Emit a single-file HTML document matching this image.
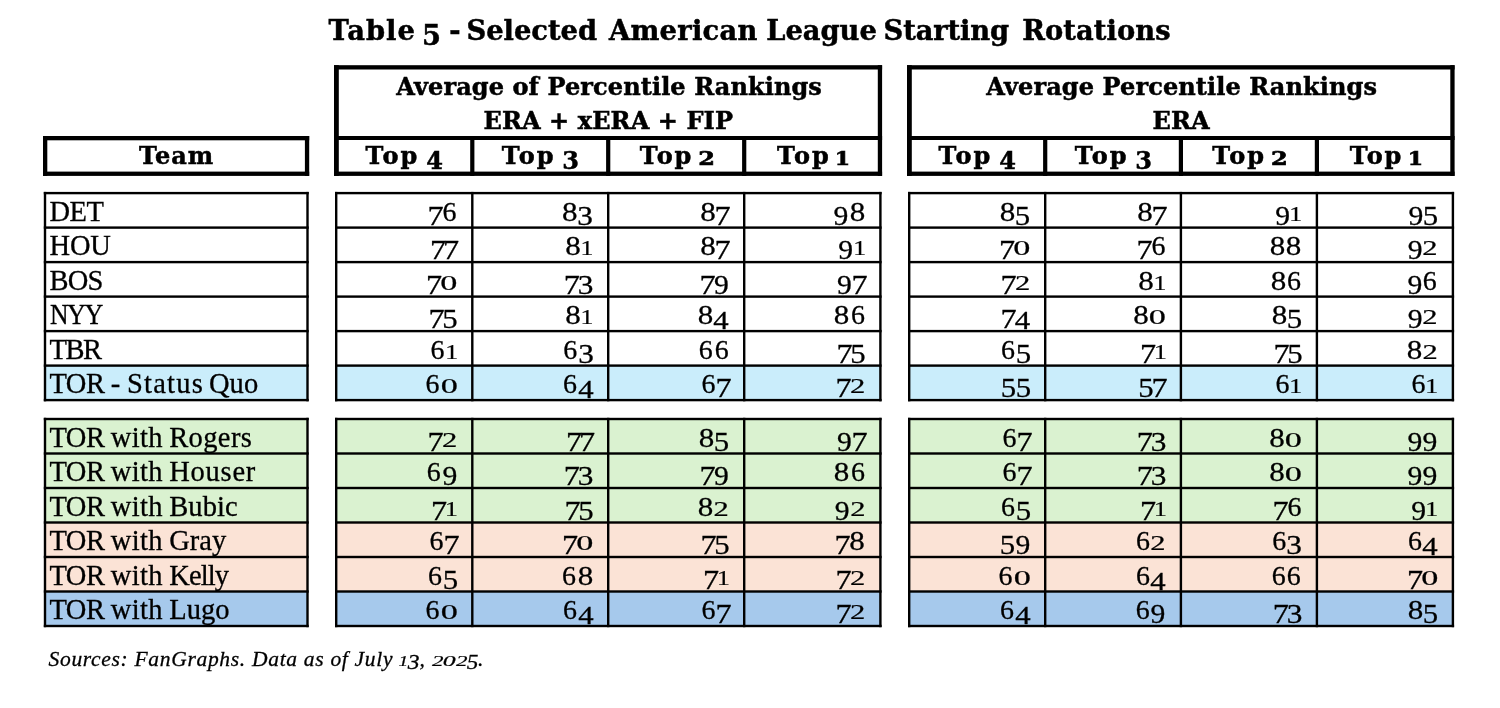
<!DOCTYPE html>
<html lang="en"><head><meta charset="utf-8"><title>Table 5 - Selected American League Starting Rotations</title>
<style>
html,body{margin:0;padding:0;background:#fff}
body{width:1500px;height:708px;position:relative;overflow:hidden;color:#000}
#lines{position:absolute;left:0;top:0}
.t{position:absolute;white-space:nowrap;line-height:1}
.title{font:bold 27.3px/1 "DejaVu Serif", serif;}
.h{font:bold 24.0px/1 "DejaVu Serif", serif;letter-spacing:0.1px;text-align:center}
.b,.n,.f{-webkit-text-stroke:.3px #000}
.h,.title{-webkit-text-stroke:.5px #000}
.b{font:28.5px/1 "Liberation Serif", serif;letter-spacing:0.15px}
.n{font:28.5px/1 "Liberation Serif", serif;text-align:right}
.f{font:italic 21.5px/1 "Liberation Serif", serif;letter-spacing:.69px}
.c{transform:translateX(-50%)}
.r{transform:translateX(-100%)}
.d{display:inline-block;text-align:center;transform-origin:50% 83.75%;letter-spacing:0}
.d span{display:inline-block;margin:0 -1em}
.d0{width:.588em;transform:scale(1.2,.71)}
.d1{width:.411em;transform:scale(.9,.70)}
.d2{width:.535em;transform:scale(1.07,.70)}
.d3{width:.529em;transform:translateY(.155em) scale(1.1,.95)}
.d4{width:.541em;transform:translateY(.16em) scale(1.08,.92)}
.d5{width:.506em;transform:translateY(.155em) scale(1.08,.95)}
.d6{width:.542em;transform:scale(.98,.96)}
.d7{width:.45em;transform:translate(.01em,.155em) scale(1.13,.95)}
.d8{width:.572em;transform:scale(1.09,.96)}
.d9{width:.542em;transform:translateY(.125em) scale(1.04,.93)}
.cp{letter-spacing:-.55px}
.lc{letter-spacing:.32px;word-spacing:-1px}
.tp{letter-spacing:1.9px}
.sp{letter-spacing:-1.1px}
.B{transform-origin:50% 84.6%}
.B.d1,.B.d2{-webkit-text-stroke:.8px #000}
.B.d1{width:.40em;transform:translateY(.03em) scale(.92,.78)}
.B.d2{width:.51em;transform:translateY(.03em) scale(1,.78)}
.B.d3{width:.66em;transform:translateY(.2em)}
.B.d4{width:.68em;transform:translateY(.2em)}
.B.d5{width:.64em;transform:translateY(.2em)}

</style></head><body>
<svg id="lines" width="1500" height="708" viewBox="0 0 1500 708" shape-rendering="geometricPrecision"><rect x="45.00" y="365.60" width="262.50" height="34.50" fill="#CAEDFB"/><rect x="336.20" y="365.60" width="544.20" height="34.50" fill="#CAEDFB"/><rect x="909.20" y="365.60" width="543.70" height="34.50" fill="#CAEDFB"/><rect x="43.80" y="191.90" width="264.90" height="2.40" fill="#000"/><rect x="43.80" y="226.40" width="264.90" height="2.40" fill="#000"/><rect x="43.80" y="260.90" width="264.90" height="2.40" fill="#000"/><rect x="43.80" y="295.40" width="264.90" height="2.40" fill="#000"/><rect x="43.80" y="329.90" width="264.90" height="2.40" fill="#000"/><rect x="43.80" y="364.40" width="264.90" height="2.40" fill="#000"/><rect x="43.80" y="398.90" width="264.90" height="2.40" fill="#000"/><rect x="43.80" y="191.90" width="2.40" height="209.40" fill="#000"/><rect x="306.30" y="191.90" width="2.40" height="209.40" fill="#000"/><rect x="335.00" y="191.90" width="546.60" height="2.40" fill="#000"/><rect x="335.00" y="226.40" width="546.60" height="2.40" fill="#000"/><rect x="335.00" y="260.90" width="546.60" height="2.40" fill="#000"/><rect x="335.00" y="295.40" width="546.60" height="2.40" fill="#000"/><rect x="335.00" y="329.90" width="546.60" height="2.40" fill="#000"/><rect x="335.00" y="364.40" width="546.60" height="2.40" fill="#000"/><rect x="335.00" y="398.90" width="546.60" height="2.40" fill="#000"/><rect x="335.00" y="191.90" width="2.40" height="209.40" fill="#000"/><rect x="471.10" y="191.90" width="2.40" height="209.40" fill="#000"/><rect x="607.00" y="191.90" width="2.40" height="209.40" fill="#000"/><rect x="743.00" y="191.90" width="2.40" height="209.40" fill="#000"/><rect x="879.20" y="191.90" width="2.40" height="209.40" fill="#000"/><rect x="908.00" y="191.90" width="546.10" height="2.40" fill="#000"/><rect x="908.00" y="226.40" width="546.10" height="2.40" fill="#000"/><rect x="908.00" y="260.90" width="546.10" height="2.40" fill="#000"/><rect x="908.00" y="295.40" width="546.10" height="2.40" fill="#000"/><rect x="908.00" y="329.90" width="546.10" height="2.40" fill="#000"/><rect x="908.00" y="364.40" width="546.10" height="2.40" fill="#000"/><rect x="908.00" y="398.90" width="546.10" height="2.40" fill="#000"/><rect x="908.00" y="191.90" width="2.40" height="209.40" fill="#000"/><rect x="1044.00" y="191.90" width="2.40" height="209.40" fill="#000"/><rect x="1179.70" y="191.90" width="2.40" height="209.40" fill="#000"/><rect x="1315.70" y="191.90" width="2.40" height="209.40" fill="#000"/><rect x="1451.70" y="191.90" width="2.40" height="209.40" fill="#000"/><rect x="45.00" y="419.00" width="262.50" height="34.50" fill="#DAF2D0"/><rect x="45.00" y="453.50" width="262.50" height="34.50" fill="#DAF2D0"/><rect x="45.00" y="488.00" width="262.50" height="34.50" fill="#DAF2D0"/><rect x="45.00" y="522.50" width="262.50" height="34.50" fill="#FBE3D6"/><rect x="45.00" y="557.00" width="262.50" height="34.50" fill="#FBE3D6"/><rect x="45.00" y="591.50" width="262.50" height="34.50" fill="#A6C9EC"/><rect x="336.20" y="419.00" width="544.20" height="34.50" fill="#DAF2D0"/><rect x="336.20" y="453.50" width="544.20" height="34.50" fill="#DAF2D0"/><rect x="336.20" y="488.00" width="544.20" height="34.50" fill="#DAF2D0"/><rect x="336.20" y="522.50" width="544.20" height="34.50" fill="#FBE3D6"/><rect x="336.20" y="557.00" width="544.20" height="34.50" fill="#FBE3D6"/><rect x="336.20" y="591.50" width="544.20" height="34.50" fill="#A6C9EC"/><rect x="909.20" y="419.00" width="543.70" height="34.50" fill="#DAF2D0"/><rect x="909.20" y="453.50" width="543.70" height="34.50" fill="#DAF2D0"/><rect x="909.20" y="488.00" width="543.70" height="34.50" fill="#DAF2D0"/><rect x="909.20" y="522.50" width="543.70" height="34.50" fill="#FBE3D6"/><rect x="909.20" y="557.00" width="543.70" height="34.50" fill="#FBE3D6"/><rect x="909.20" y="591.50" width="543.70" height="34.50" fill="#A6C9EC"/><rect x="43.80" y="417.80" width="264.90" height="2.40" fill="#000"/><rect x="43.80" y="452.30" width="264.90" height="2.40" fill="#000"/><rect x="43.80" y="486.80" width="264.90" height="2.40" fill="#000"/><rect x="43.80" y="521.30" width="264.90" height="2.40" fill="#000"/><rect x="43.80" y="555.80" width="264.90" height="2.40" fill="#000"/><rect x="43.80" y="590.30" width="264.90" height="2.40" fill="#000"/><rect x="43.80" y="624.80" width="264.90" height="2.40" fill="#000"/><rect x="43.80" y="417.80" width="2.40" height="209.40" fill="#000"/><rect x="306.30" y="417.80" width="2.40" height="209.40" fill="#000"/><rect x="335.00" y="417.80" width="546.60" height="2.40" fill="#000"/><rect x="335.00" y="452.30" width="546.60" height="2.40" fill="#000"/><rect x="335.00" y="486.80" width="546.60" height="2.40" fill="#000"/><rect x="335.00" y="521.30" width="546.60" height="2.40" fill="#000"/><rect x="335.00" y="555.80" width="546.60" height="2.40" fill="#000"/><rect x="335.00" y="590.30" width="546.60" height="2.40" fill="#000"/><rect x="335.00" y="624.80" width="546.60" height="2.40" fill="#000"/><rect x="335.00" y="417.80" width="2.40" height="209.40" fill="#000"/><rect x="471.10" y="417.80" width="2.40" height="209.40" fill="#000"/><rect x="607.00" y="417.80" width="2.40" height="209.40" fill="#000"/><rect x="743.00" y="417.80" width="2.40" height="209.40" fill="#000"/><rect x="879.20" y="417.80" width="2.40" height="209.40" fill="#000"/><rect x="908.00" y="417.80" width="546.10" height="2.40" fill="#000"/><rect x="908.00" y="452.30" width="546.10" height="2.40" fill="#000"/><rect x="908.00" y="486.80" width="546.10" height="2.40" fill="#000"/><rect x="908.00" y="521.30" width="546.10" height="2.40" fill="#000"/><rect x="908.00" y="555.80" width="546.10" height="2.40" fill="#000"/><rect x="908.00" y="590.30" width="546.10" height="2.40" fill="#000"/><rect x="908.00" y="624.80" width="546.10" height="2.40" fill="#000"/><rect x="908.00" y="417.80" width="2.40" height="209.40" fill="#000"/><rect x="1044.00" y="417.80" width="2.40" height="209.40" fill="#000"/><rect x="1179.70" y="417.80" width="2.40" height="209.40" fill="#000"/><rect x="1315.70" y="417.80" width="2.40" height="209.40" fill="#000"/><rect x="1451.70" y="417.80" width="2.40" height="209.40" fill="#000"/><rect x="43.00" y="136.00" width="266.20" height="4.30" fill="#000"/><rect x="43.00" y="171.60" width="266.20" height="4.30" fill="#000"/><rect x="43.00" y="136.00" width="4.30" height="39.90" fill="#000"/><rect x="304.90" y="136.00" width="4.30" height="39.90" fill="#000"/><rect x="334.00" y="65.20" width="548.10" height="4.30" fill="#000"/><rect x="334.00" y="171.60" width="548.10" height="4.30" fill="#000"/><rect x="334.00" y="65.20" width="4.80" height="110.70" fill="#000"/><rect x="877.80" y="65.20" width="4.30" height="110.70" fill="#000"/><rect x="334.00" y="136.00" width="548.10" height="4.00" fill="#000"/><rect x="470.20" y="138.00" width="4.20" height="37.90" fill="#000"/><rect x="606.10" y="138.00" width="4.20" height="37.90" fill="#000"/><rect x="742.10" y="138.00" width="4.20" height="37.90" fill="#000"/><rect x="907.00" y="65.20" width="547.60" height="4.30" fill="#000"/><rect x="907.00" y="171.60" width="547.60" height="4.30" fill="#000"/><rect x="907.00" y="65.20" width="4.80" height="110.70" fill="#000"/><rect x="1450.30" y="65.20" width="4.30" height="110.70" fill="#000"/><rect x="907.00" y="136.00" width="547.60" height="4.00" fill="#000"/><rect x="1043.10" y="138.00" width="4.20" height="37.90" fill="#000"/><rect x="1178.80" y="138.00" width="4.20" height="37.90" fill="#000"/><rect x="1314.80" y="138.00" width="4.20" height="37.90" fill="#000"/></svg>
<div class="t title" style="left:328.6px;top:16.50px"><span style="letter-spacing:1.0px;margin-left:0px">Table</span><span style="letter-spacing:0px;margin-left:0px"> </span><span style="letter-spacing:0px;margin-left:-2.7px"><span class="d d5 B"><span>5</span></span></span><span style="letter-spacing:0px;margin-left:0px"> </span><span style="letter-spacing:0px;margin-left:-0.3px">-</span><span style="letter-spacing:0px;margin-left:0px"> </span><span style="letter-spacing:0px;margin-left:-3.7px">Selected</span><span style="letter-spacing:0px;margin-left:0px"> </span><span style="letter-spacing:0.29px;margin-left:2.4px">American</span><span style="letter-spacing:0px;margin-left:0px"> </span><span style="letter-spacing:0px;margin-left:-0.8px">League</span><span style="letter-spacing:0px;margin-left:0px"> </span><span style="letter-spacing:-0.1px;margin-left:-2.8px">Starting</span><span style="letter-spacing:0px;margin-left:0px"> </span><span style="letter-spacing:0.1px;margin-left:3.6px">Rotations</span></div>
<div class="t h c" style="left:609.1px;top:74.70px">Average of Percentile Rankings</div>
<div class="t h c" style="left:608.3px;top:108.70px">ERA + xERA + FIP</div>
<div class="t h c" style="left:1181.7px;top:74.70px">Average Percentile Rankings</div>
<div class="t h c" style="left:1181.1px;top:108.70px">ERA</div>
<div class="t h c" style="left:176.5px;top:144.00px"><span style="letter-spacing:.9px">Team</span></div>
<div class="t h c" style="left:404.2px;top:144.00px"><span class="tp">Top</span><span class="sp"> </span><span class="d d4 B"><span>4</span></span></div>
<div class="t h c" style="left:540.2px;top:144.00px"><span class="tp">Top</span><span class="sp"> </span><span class="d d3 B"><span>3</span></span></div>
<div class="t h c" style="left:676.2px;top:144.00px"><span class="tp">Top</span><span class="sp"> </span><span class="d d2 B"><span>2</span></span></div>
<div class="t h c" style="left:812.3px;top:144.00px"><span class="tp">Top</span><span class="sp"> </span><span class="d d1 B"><span>1</span></span></div>
<div class="t h c" style="left:977.2px;top:144.00px"><span class="tp">Top</span><span class="sp"> </span><span class="d d4 B"><span>4</span></span></div>
<div class="t h c" style="left:1113.1px;top:144.00px"><span class="tp">Top</span><span class="sp"> </span><span class="d d3 B"><span>3</span></span></div>
<div class="t h c" style="left:1248.9px;top:144.00px"><span class="tp">Top</span><span class="sp"> </span><span class="d d2 B"><span>2</span></span></div>
<div class="t h c" style="left:1384.9px;top:144.00px"><span class="tp">Top</span><span class="sp"> </span><span class="d d1 B"><span>1</span></span></div>
<div class="t b" style="left:49.5px;top:197.63px"><span style="letter-spacing:-0.55px">DET</span></div>
<div class="t n r" style="left:457.3px;top:197.63px"><span class="d d7"><span>7</span></span><span class="d d6"><span>6</span></span></div>
<div class="t n r" style="left:593.2px;top:197.63px"><span class="d d8"><span>8</span></span><span class="d d3"><span>3</span></span></div>
<div class="t n r" style="left:729.2px;top:197.63px"><span class="d d8"><span>8</span></span><span class="d d7"><span>7</span></span></div>
<div class="t n r" style="left:865.4px;top:197.63px"><span class="d d9"><span>9</span></span><span class="d d8"><span>8</span></span></div>
<div class="t n r" style="left:1030.2px;top:197.63px"><span class="d d8"><span>8</span></span><span class="d d5"><span>5</span></span></div>
<div class="t n r" style="left:1165.9px;top:197.63px"><span class="d d8"><span>8</span></span><span class="d d7"><span>7</span></span></div>
<div class="t n r" style="left:1301.9px;top:197.63px"><span class="d d9"><span>9</span></span><span class="d d1"><span>1</span></span></div>
<div class="t n r" style="left:1437.9px;top:197.63px"><span class="d d9"><span>9</span></span><span class="d d5"><span>5</span></span></div>
<div class="t b" style="left:49.5px;top:232.13px"><span style="letter-spacing:-0.15px">HOU</span></div>
<div class="t n r" style="left:457.3px;top:232.13px"><span class="d d7"><span>7</span></span><span class="d d7"><span>7</span></span></div>
<div class="t n r" style="left:593.2px;top:232.13px"><span class="d d8"><span>8</span></span><span class="d d1"><span>1</span></span></div>
<div class="t n r" style="left:729.2px;top:232.13px"><span class="d d8"><span>8</span></span><span class="d d7"><span>7</span></span></div>
<div class="t n r" style="left:865.4px;top:232.13px"><span class="d d9"><span>9</span></span><span class="d d1"><span>1</span></span></div>
<div class="t n r" style="left:1030.2px;top:232.13px"><span class="d d7"><span>7</span></span><span class="d d0"><span>0</span></span></div>
<div class="t n r" style="left:1165.9px;top:232.13px"><span class="d d7"><span>7</span></span><span class="d d6"><span>6</span></span></div>
<div class="t n r" style="left:1301.9px;top:232.13px"><span class="d d8"><span>8</span></span><span class="d d8"><span>8</span></span></div>
<div class="t n r" style="left:1437.9px;top:232.13px"><span class="d d9"><span>9</span></span><span class="d d2"><span>2</span></span></div>
<div class="t b" style="left:49.5px;top:266.63px"><span style="letter-spacing:-0.80px">BOS</span></div>
<div class="t n r" style="left:457.3px;top:266.63px"><span class="d d7"><span>7</span></span><span class="d d0"><span>0</span></span></div>
<div class="t n r" style="left:593.2px;top:266.63px"><span class="d d7"><span>7</span></span><span class="d d3"><span>3</span></span></div>
<div class="t n r" style="left:729.2px;top:266.63px"><span class="d d7"><span>7</span></span><span class="d d9"><span>9</span></span></div>
<div class="t n r" style="left:865.4px;top:266.63px"><span class="d d9"><span>9</span></span><span class="d d7"><span>7</span></span></div>
<div class="t n r" style="left:1030.2px;top:266.63px"><span class="d d7"><span>7</span></span><span class="d d2"><span>2</span></span></div>
<div class="t n r" style="left:1165.9px;top:266.63px"><span class="d d8"><span>8</span></span><span class="d d1"><span>1</span></span></div>
<div class="t n r" style="left:1301.9px;top:266.63px"><span class="d d8"><span>8</span></span><span class="d d6"><span>6</span></span></div>
<div class="t n r" style="left:1437.9px;top:266.63px"><span class="d d9"><span>9</span></span><span class="d d6"><span>6</span></span></div>
<div class="t b" style="left:49.5px;top:301.13px"><span style="letter-spacing:-1.30px;display:inline-block;transform:scaleX(.9);transform-origin:0 50%">NYY</span></div>
<div class="t n r" style="left:457.3px;top:301.13px"><span class="d d7"><span>7</span></span><span class="d d5"><span>5</span></span></div>
<div class="t n r" style="left:593.2px;top:301.13px"><span class="d d8"><span>8</span></span><span class="d d1"><span>1</span></span></div>
<div class="t n r" style="left:729.2px;top:301.13px"><span class="d d8"><span>8</span></span><span class="d d4"><span>4</span></span></div>
<div class="t n r" style="left:865.4px;top:301.13px"><span class="d d8"><span>8</span></span><span class="d d6"><span>6</span></span></div>
<div class="t n r" style="left:1030.2px;top:301.13px"><span class="d d7"><span>7</span></span><span class="d d4"><span>4</span></span></div>
<div class="t n r" style="left:1165.9px;top:301.13px"><span class="d d8"><span>8</span></span><span class="d d0"><span>0</span></span></div>
<div class="t n r" style="left:1301.9px;top:301.13px"><span class="d d8"><span>8</span></span><span class="d d5"><span>5</span></span></div>
<div class="t n r" style="left:1437.9px;top:301.13px"><span class="d d9"><span>9</span></span><span class="d d2"><span>2</span></span></div>
<div class="t b" style="left:49.5px;top:335.63px"><span style="letter-spacing:-1.40px">TBR</span></div>
<div class="t n r" style="left:457.3px;top:335.63px"><span class="d d6"><span>6</span></span><span class="d d1"><span>1</span></span></div>
<div class="t n r" style="left:593.2px;top:335.63px"><span class="d d6"><span>6</span></span><span class="d d3"><span>3</span></span></div>
<div class="t n r" style="left:729.2px;top:335.63px"><span class="d d6"><span>6</span></span><span class="d d6"><span>6</span></span></div>
<div class="t n r" style="left:865.4px;top:335.63px"><span class="d d7"><span>7</span></span><span class="d d5"><span>5</span></span></div>
<div class="t n r" style="left:1030.2px;top:335.63px"><span class="d d6"><span>6</span></span><span class="d d5"><span>5</span></span></div>
<div class="t n r" style="left:1165.9px;top:335.63px"><span class="d d7"><span>7</span></span><span class="d d1"><span>1</span></span></div>
<div class="t n r" style="left:1301.9px;top:335.63px"><span class="d d7"><span>7</span></span><span class="d d5"><span>5</span></span></div>
<div class="t n r" style="left:1437.9px;top:335.63px"><span class="d d8"><span>8</span></span><span class="d d2"><span>2</span></span></div>
<div class="t b" style="left:49.5px;top:370.13px"><span class="cp">TOR</span><span class="lc"> - </span><span style="letter-spacing:1.2px">Status</span><span style="letter-spacing:-2.2px"> </span><span style="letter-spacing:.1px">Quo</span></div>
<div class="t n r" style="left:457.3px;top:370.13px"><span class="d d6"><span>6</span></span><span class="d d0"><span>0</span></span></div>
<div class="t n r" style="left:593.2px;top:370.13px"><span class="d d6"><span>6</span></span><span class="d d4"><span>4</span></span></div>
<div class="t n r" style="left:729.2px;top:370.13px"><span class="d d6"><span>6</span></span><span class="d d7"><span>7</span></span></div>
<div class="t n r" style="left:865.4px;top:370.13px"><span class="d d7"><span>7</span></span><span class="d d2"><span>2</span></span></div>
<div class="t n r" style="left:1030.2px;top:370.13px"><span class="d d5"><span>5</span></span><span class="d d5"><span>5</span></span></div>
<div class="t n r" style="left:1165.9px;top:370.13px"><span class="d d5"><span>5</span></span><span class="d d7"><span>7</span></span></div>
<div class="t n r" style="left:1301.9px;top:370.13px"><span class="d d6"><span>6</span></span><span class="d d1"><span>1</span></span></div>
<div class="t n r" style="left:1437.9px;top:370.13px"><span class="d d6"><span>6</span></span><span class="d d1"><span>1</span></span></div>
<div class="t b" style="left:49.5px;top:423.53px"><span class="cp">TOR</span><span class="lc"> with </span><span style="letter-spacing:0.39px">Rogers</span></div>
<div class="t n r" style="left:457.3px;top:423.53px"><span class="d d7"><span>7</span></span><span class="d d2"><span>2</span></span></div>
<div class="t n r" style="left:593.2px;top:423.53px"><span class="d d7"><span>7</span></span><span class="d d7"><span>7</span></span></div>
<div class="t n r" style="left:729.2px;top:423.53px"><span class="d d8"><span>8</span></span><span class="d d5"><span>5</span></span></div>
<div class="t n r" style="left:865.4px;top:423.53px"><span class="d d9"><span>9</span></span><span class="d d7"><span>7</span></span></div>
<div class="t n r" style="left:1030.2px;top:423.53px"><span class="d d6"><span>6</span></span><span class="d d7"><span>7</span></span></div>
<div class="t n r" style="left:1165.9px;top:423.53px"><span class="d d7"><span>7</span></span><span class="d d3"><span>3</span></span></div>
<div class="t n r" style="left:1301.9px;top:423.53px"><span class="d d8"><span>8</span></span><span class="d d0"><span>0</span></span></div>
<div class="t n r" style="left:1437.9px;top:423.53px"><span class="d d9"><span>9</span></span><span class="d d9"><span>9</span></span></div>
<div class="t b" style="left:49.5px;top:458.03px"><span class="cp">TOR</span><span class="lc"> with </span><span style="letter-spacing:0.77px">Houser</span></div>
<div class="t n r" style="left:457.3px;top:458.03px"><span class="d d6"><span>6</span></span><span class="d d9"><span>9</span></span></div>
<div class="t n r" style="left:593.2px;top:458.03px"><span class="d d7"><span>7</span></span><span class="d d3"><span>3</span></span></div>
<div class="t n r" style="left:729.2px;top:458.03px"><span class="d d7"><span>7</span></span><span class="d d9"><span>9</span></span></div>
<div class="t n r" style="left:865.4px;top:458.03px"><span class="d d8"><span>8</span></span><span class="d d6"><span>6</span></span></div>
<div class="t n r" style="left:1030.2px;top:458.03px"><span class="d d6"><span>6</span></span><span class="d d7"><span>7</span></span></div>
<div class="t n r" style="left:1165.9px;top:458.03px"><span class="d d7"><span>7</span></span><span class="d d3"><span>3</span></span></div>
<div class="t n r" style="left:1301.9px;top:458.03px"><span class="d d8"><span>8</span></span><span class="d d0"><span>0</span></span></div>
<div class="t n r" style="left:1437.9px;top:458.03px"><span class="d d9"><span>9</span></span><span class="d d9"><span>9</span></span></div>
<div class="t b" style="left:49.5px;top:492.53px"><span class="cp">TOR</span><span class="lc"> with </span><span style="letter-spacing:0.12px">Bubic</span></div>
<div class="t n r" style="left:457.3px;top:492.53px"><span class="d d7"><span>7</span></span><span class="d d1"><span>1</span></span></div>
<div class="t n r" style="left:593.2px;top:492.53px"><span class="d d7"><span>7</span></span><span class="d d5"><span>5</span></span></div>
<div class="t n r" style="left:729.2px;top:492.53px"><span class="d d8"><span>8</span></span><span class="d d2"><span>2</span></span></div>
<div class="t n r" style="left:865.4px;top:492.53px"><span class="d d9"><span>9</span></span><span class="d d2"><span>2</span></span></div>
<div class="t n r" style="left:1030.2px;top:492.53px"><span class="d d6"><span>6</span></span><span class="d d5"><span>5</span></span></div>
<div class="t n r" style="left:1165.9px;top:492.53px"><span class="d d7"><span>7</span></span><span class="d d1"><span>1</span></span></div>
<div class="t n r" style="left:1301.9px;top:492.53px"><span class="d d7"><span>7</span></span><span class="d d6"><span>6</span></span></div>
<div class="t n r" style="left:1437.9px;top:492.53px"><span class="d d9"><span>9</span></span><span class="d d1"><span>1</span></span></div>
<div class="t b" style="left:49.5px;top:527.03px"><span class="cp">TOR</span><span class="lc"> with </span><span style="letter-spacing:0.00px">Gray</span></div>
<div class="t n r" style="left:457.3px;top:527.03px"><span class="d d6"><span>6</span></span><span class="d d7"><span>7</span></span></div>
<div class="t n r" style="left:593.2px;top:527.03px"><span class="d d7"><span>7</span></span><span class="d d0"><span>0</span></span></div>
<div class="t n r" style="left:729.2px;top:527.03px"><span class="d d7"><span>7</span></span><span class="d d5"><span>5</span></span></div>
<div class="t n r" style="left:865.4px;top:527.03px"><span class="d d7"><span>7</span></span><span class="d d8"><span>8</span></span></div>
<div class="t n r" style="left:1030.2px;top:527.03px"><span class="d d5"><span>5</span></span><span class="d d9"><span>9</span></span></div>
<div class="t n r" style="left:1165.9px;top:527.03px"><span class="d d6"><span>6</span></span><span class="d d2"><span>2</span></span></div>
<div class="t n r" style="left:1301.9px;top:527.03px"><span class="d d6"><span>6</span></span><span class="d d3"><span>3</span></span></div>
<div class="t n r" style="left:1437.9px;top:527.03px"><span class="d d6"><span>6</span></span><span class="d d4"><span>4</span></span></div>
<div class="t b" style="left:49.5px;top:561.53px"><span class="cp">TOR</span><span class="lc"> with </span><span style="letter-spacing:-0.88px">Kelly</span></div>
<div class="t n r" style="left:457.3px;top:561.53px"><span class="d d6"><span>6</span></span><span class="d d5"><span>5</span></span></div>
<div class="t n r" style="left:593.2px;top:561.53px"><span class="d d6"><span>6</span></span><span class="d d8"><span>8</span></span></div>
<div class="t n r" style="left:729.2px;top:561.53px"><span class="d d7"><span>7</span></span><span class="d d1"><span>1</span></span></div>
<div class="t n r" style="left:865.4px;top:561.53px"><span class="d d7"><span>7</span></span><span class="d d2"><span>2</span></span></div>
<div class="t n r" style="left:1030.2px;top:561.53px"><span class="d d6"><span>6</span></span><span class="d d0"><span>0</span></span></div>
<div class="t n r" style="left:1165.9px;top:561.53px"><span class="d d6"><span>6</span></span><span class="d d4"><span>4</span></span></div>
<div class="t n r" style="left:1301.9px;top:561.53px"><span class="d d6"><span>6</span></span><span class="d d6"><span>6</span></span></div>
<div class="t n r" style="left:1437.9px;top:561.53px"><span class="d d7"><span>7</span></span><span class="d d0"><span>0</span></span></div>
<div class="t b" style="left:49.5px;top:596.03px"><span class="cp">TOR</span><span class="lc"> with </span><span style="letter-spacing:0.07px">Lugo</span></div>
<div class="t n r" style="left:457.3px;top:596.03px"><span class="d d6"><span>6</span></span><span class="d d0"><span>0</span></span></div>
<div class="t n r" style="left:593.2px;top:596.03px"><span class="d d6"><span>6</span></span><span class="d d4"><span>4</span></span></div>
<div class="t n r" style="left:729.2px;top:596.03px"><span class="d d6"><span>6</span></span><span class="d d7"><span>7</span></span></div>
<div class="t n r" style="left:865.4px;top:596.03px"><span class="d d7"><span>7</span></span><span class="d d2"><span>2</span></span></div>
<div class="t n r" style="left:1030.2px;top:596.03px"><span class="d d6"><span>6</span></span><span class="d d4"><span>4</span></span></div>
<div class="t n r" style="left:1165.9px;top:596.03px"><span class="d d6"><span>6</span></span><span class="d d9"><span>9</span></span></div>
<div class="t n r" style="left:1301.9px;top:596.03px"><span class="d d7"><span>7</span></span><span class="d d3"><span>3</span></span></div>
<div class="t n r" style="left:1437.9px;top:596.03px"><span class="d d8"><span>8</span></span><span class="d d5"><span>5</span></span></div>
<div class="t f" style="left:48.5px;top:648.79px">Sources: FanGraphs. Data as of July <span class="d d1"><span>1</span></span><span class="d d3"><span>3</span></span>, <span class="d d2"><span>2</span></span><span class="d d0"><span>0</span></span><span class="d d2"><span>2</span></span><span class="d d5"><span>5</span></span>.</div>
</body></html>
